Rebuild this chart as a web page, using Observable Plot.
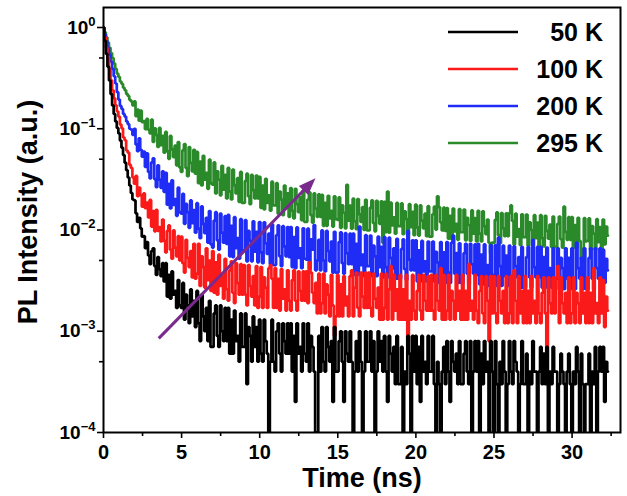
<!DOCTYPE html>
<html><head><meta charset="utf-8">
<script src="https://cdn.jsdelivr.net/npm/d3@7"></script>
<script src="https://cdn.jsdelivr.net/npm/@observablehq/plot@0.6"></script>
<style>html,body{margin:0;padding:0;background:#fff;} svg{display:block}</style>
</head><body><div id="chart"></div>
<script>
// ---- data (photon counts per 0.1 ns channel) ----
const channelWidthNs = 0.1;
const peakCounts = 10000;
const seriesNames = ["50 K", "100 K", "200 K", "295 K"];
const seriesColors = ["#000000", "#fb1a1a", "#1f2cf5", "#2a8a2a"];

const counts50K = [
10000,7400,5500,4100,3000,2200,1700,1400,1180,1020,
900,765,650,550,462,390,330,275,232,200,
196,146,120,132,104,86,87,66,76,56,
46,62,66,44,36,54,41,35,47,31,
47,22,36,21,39,23,25,17,32,18,
17,30,13,23,18,12,26,14,20,11,
25,12,8,23,14,10,17,8,20,7,
7,15,18,9,7,18,10,8,17,8,
17,6,13,6,16,8,9,5,15,7,
7,15,3,11,9,5,14,7,11,5,
13,6,5,13,8,6,1,5,13,5,
4,10,12,6,4,12,8,6,12,6,
12,4,9,2,12,6,7,4,12,6,
5,12,4,9,7,4,1,1,9,4,
11,5,4,11,7,5,8,2,11,4,
4,8,10,5,2,10,6,5,10,5,
1,4,8,4,10,5,1,4,10,5,
5,10,4,8,1,4,10,5,8,4,
9,4,2,9,6,4,7,3,9,3,
3,7,1,4,3,9,6,1,9,4,
9,3,7,2,9,4,5,3,9,4,
4,9,3,1,5,3,1,4,7,3,
8,4,2,8,5,4,6,3,8,3,
3,6,8,4,3,8,1,4,8,4,
8,1,6,3,8,4,5,1,8,4,
1,8,3,1,5,3,8,4,1,3,
8,4,3,8,5,4,1,3,8,3,
3,6,1,4,3,8,4,4,1,4,
7,3,6,3,7,1,4,3,7,4,
4,1,3,6,4,3,1,4,6,3,
1,4,3,7,4,1,6,3,1,3,
3,6,1,4,3,7,1,4,7,4,
7,2,5,4];

const counts100K = [
10000,8000,6300,5000,3900,3000,2400,2000,1700,1480,
1320,1100,1010,820,770,610,580,440,410,330,
287,342,216,262,220,170,230,164,187,133,
198,108,154,97,158,98,107,77,127,78,
60,98,111,64,52,99,67,55,87,50,
86,47,38,80,53,43,62,34,73,33,
37,73,28,55,43,27,66,32,50,25,
62,24,48,23,57,28,35,21,52,26,
20,40,49,24,19,47,30,23,46,23,
45,23,18,45,28,22,35,18,44,17,
22,43,17,34,27,17,42,45,33,17,
42,17,33,16,41,21,26,16,40,20,
16,32,40,20,16,39,25,20,39,20,
39,19,48,38,24,19,30,15,37,15,
19,37,15,29,23,14,36,18,9,14,
36,14,29,14,35,18,22,14,35,40,
14,27,38,17,14,38,22,17,38,17,
38,17,14,37,21,17,27,13,37,13,
17,37,13,26,44,13,36,16,26,13,
36,13,26,13,36,8,20,13,36,16,
13,25,36,16,13,36,20,16,35,16,
36,16,13,36,20,16,42,13,36,13,
16,36,13,25,20,13,36,16,25,13,
36,13,25,13,46,16,20,13,36,16,
12,25,35,15,12,35,20,8,35,15,
35,15,12,35,20,15,25,12,35,12,
15,35,12,40,20,12,35,15,25,12,
35,12,25,12,35,15,20,12,35,15,
12,24,34,15,7,34,19,15,34,15,
34,44,12,34,19,15,24,12,34,12,
15,34,12,24,19,12,34,15,24,12,
34,12,24,12,42,15,19,12,34,15,
32,11,22,16];

const counts200K = [
10000,8600,7400,6300,5400,4600,3900,3300,2800,2300,
1940,1680,1570,1400,1320,1180,1110,1000,980,870,
1000,700,600,805,620,530,595,420,570,375,
323,465,510,318,265,435,315,261,380,238,
367,178,286,163,310,177,202,138,262,150,
145,228,115,181,150,105,196,117,157,94,
184,103,83,171,115,93,132,75,154,72,
67,124,150,79,64,145,94,75,137,73,
141,55,110,54,134,66,83,52,128,63,
62,125,49,98,78,49,122,61,96,48,
120,60,47,119,74,58,92,46,114,45,
45,89,111,55,44,109,69,55,107,54,
107,43,85,42,106,53,66,42,104,52,
51,103,41,81,64,112,40,50,80,40,
99,50,39,98,62,49,77,38,96,38,
38,76,95,47,37,93,59,46,92,46,
92,36,73,36,108,45,57,35,89,44,
44,88,35,70,55,35,86,43,68,34,
85,43,34,84,53,42,66,33,82,33,
33,65,81,41,32,98,51,40,79,40,
79,31,63,31,78,39,49,31,77,39,
39,77,31,61,48,30,76,38,60,30,
76,38,30,75,88,37,59,30,74,30,
30,59,73,37,29,73,46,37,72,36,
73,29,57,29,72,36,45,28,71,36,
36,71,28,84,44,28,70,35,56,28,
70,35,28,69,44,34,54,27,68,27,
27,54,68,34,27,80,43,34,68,34,
68,27,54,27,67,34,42,27,66,33,
33,66,26,53,42,26,66,33,53,26,
66,33,26,75,42,33,53,26,66,26,
26,53,66,33,26,66,42,33,66,33,
64,30,52,40];

const counts295K = [
10000,9000,8000,7100,6300,5600,5000,4400,3900,3500,
3250,2930,2780,2540,2400,2210,2110,1930,1860,1700,
1860,1330,1550,1200,1510,1160,1190,990,1250,980,
900,1230,740,1010,870,660,1020,690,850,580,
930,600,505,850,625,525,680,435,740,415,
375,615,705,410,340,660,460,380,620,360,
590,290,475,275,540,315,366,255,495,290,
280,465,230,380,315,220,430,250,350,205,
410,240,200,395,278,230,325,190,375,185,
185,305,360,215,180,350,248,205,345,205,
335,165,275,160,320,185,220,155,300,175,
175,290,145,240,200,140,275,165,230,135,
260,155,130,255,180,150,210,125,245,120,
120,200,235,140,118,230,163,135,225,135,
222,110,185,110,218,130,155,108,215,128,
126,210,105,175,148,104,280,124,174,103,
204,122,102,202,143,120,168,100,199,99,
99,166,196,117,97,194,138,115,192,75,
190,95,240,94,186,111,133,92,185,109,
109,183,91,153,128,90,180,107,151,89,
178,106,88,175,124,104,145,87,172,86,
86,143,170,101,215,168,119,99,166,98,
165,82,138,81,163,97,115,80,161,95,
95,159,79,132,112,78,156,92,131,77,
155,92,77,153,109,91,127,75,59,75,
75,126,149,89,74,147,104,87,146,87,
147,175,123,72,145,86,102,71,143,85,
85,142,70,119,100,70,140,83,118,69,
140,83,69,138,98,82,113,68,136,68,
68,115,136,81,67,170,96,80,134,80,
134,67,112,66,132,78,52,65,131,77,
78,130,64,109,92,64,128,76,107,64,
127,72,108,88];

const xTicks = [0, 5, 10, 15, 20, 25, 30];
const xMinorTicks = [2.5, 7.5, 12.5, 17.5, 22.5, 27.5, 32.5];
const yTicks = [1e-4, 1e-3, 1e-2, 1e-1, 1];
const yMinorTicks = [5e-4, 5e-3, 5e-2, 5e-1];
const arrowTime = [3.57, 13.6];
const arrowIntensity = [8.4e-4, 3.2e-2];
const arrowColor = "#7a2a8c";

// ---- build table ----
const allCounts = [counts50K, counts100K, counts200K, counts295K];
const rows = [];
allCounts.forEach((arr, k) => arr.forEach((c, i) => rows.push({
  series: seriesNames[k], time: +(i * channelWidthNs).toFixed(2), intensity: c / peakCounts
})));

const FONT = "'Liberation Sans', Arial, Helvetica, sans-serif";
const drawOrder = [3, 2, 1, 0];

const lineMarks = drawOrder.map(k => Plot.line(rows.filter(r => r.series === seriesNames[k]), {
  x: "time", y: "intensity", stroke: seriesColors[k], strokeWidth: 2.7, strokeLinejoin: "miter",
  curve: "step", clip: true
}));

function arrowMark(index, scales) {
  const x0 = scales.x(arrowTime[0]), y0 = scales.y(arrowIntensity[0]);
  const x1 = scales.x(arrowTime[1]), y1 = scales.y(arrowIntensity[1]);
  const dx = x1 - x0, dy = y1 - y0, L = Math.hypot(dx, dy), ux = dx / L, uy = dy / L;
  const hl = 17, hw = 6.5;
  const bx = x1 - ux * hl, by = y1 - uy * hl;
  const g = d3.create("svg:g");
  g.append("line").attr("x1", x0).attr("y1", y0).attr("x2", bx + ux * 2).attr("y2", by + uy * 2)
    .attr("stroke", arrowColor).attr("stroke-width", 3);
  g.append("path").attr("d", `M${x1},${y1}L${bx - uy * hw},${by + ux * hw}L${bx + uy * hw},${by - ux * hw}Z`)
    .attr("fill", arrowColor);
  return g.node();
}

function legendMark(index, scales, values, dimensions) {
  const right = dimensions.width - dimensions.marginRight;
  const g = d3.create("svg:g").attr("font-family", FONT).attr("font-weight", "bold").attr("font-size", 25);
  seriesNames.forEach((s, k) => {
    const y = dimensions.marginTop + 25 + k * 37;
    g.append("line").attr("x1", right - 172).attr("x2", right - 102).attr("y1", y).attr("y2", y)
      .attr("stroke", seriesColors[k]).attr("stroke-width", 2.5);
    g.append("text").attr("x", right - 17).attr("y", y).attr("dy", "0.36em")
      .attr("text-anchor", "end").attr("fill", "#000").text(s);
  });
  return g.node();
}

const chart = Plot.plot({
  width: 627, height: 496,
  marginLeft: 103, marginRight: 7, marginTop: 7, marginBottom: 64,
  style: {fontFamily: FONT, fontWeight: "bold", background: "#fff", color: "#000"},
  x: {domain: [0, 33.1]},
  y: {type: "log", domain: [1e-4, 1.576]},
  marks: [
    ...lineMarks,
    arrowMark,
    legendMark,
    Plot.axisX({ticks: xTicks, tickSize: 6, tickPadding: 6, fontSize: 20, strokeWidth: 1.6,
      tickFormat: d => String(d), label: null}),
    Plot.axisX({ticks: xMinorTicks, tickSize: 4, strokeWidth: 1.6, tickFormat: () => "", label: null}),
    Plot.axisY({ticks: yTicks, tickSize: 6, tickPadding: 2, fontSize: 19, strokeWidth: 1.6,
      tickFormat: d => "10^" + Math.round(Math.log10(d)), label: null}),
    Plot.axisY({ticks: yMinorTicks, tickSize: 4, strokeWidth: 1.6, tickFormat: () => "", label: null}),
    Plot.frame({stroke: "#000", strokeWidth: 2}),
    Plot.text(["Time (ns)"], {frameAnchor: "bottom", dy: 46, text: d => d, fontSize: 27,
      fontWeight: "bold", lineAnchor: "middle", textAnchor: "middle", fill: "#000"}),
    Plot.text(["PL Intensity (a.u.)"], {frameAnchor: "left", dx: -75, dy: -8, rotate: -90, text: d => d,
      fontSize: 27, fontWeight: "bold", lineAnchor: "middle", textAnchor: "middle", fill: "#000"})
  ]
});

// superscript exponents on the y tick labels
d3.select(chart).selectAll('g[aria-label="y-axis tick label"] text').each(function () {
  const s = this.textContent;
  if (!s.includes("^")) return;
  const [base, exp] = s.split("^");
  const t = d3.select(this);
  t.text(null);
  t.append("tspan").text(base);
  t.append("tspan").attr("font-size", 13).attr("dy", "-0.62em").text(exp.replace("-", "\u2212"));
});

document.getElementById("chart").appendChild(chart);
</script>
</body></html>
